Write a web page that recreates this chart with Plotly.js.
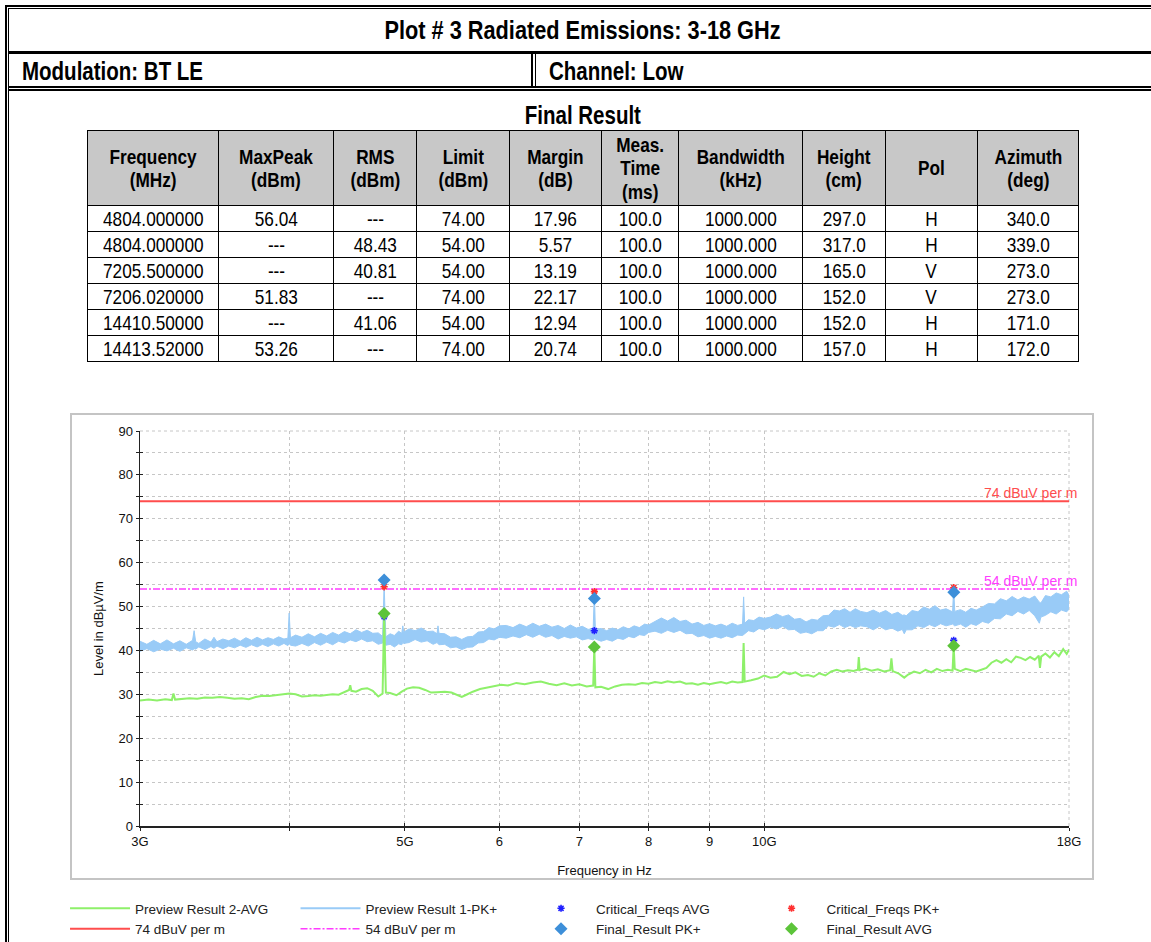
<!DOCTYPE html>
<html><head><meta charset="utf-8">
<script src="https://cdn.plot.ly/plotly-3.0.1.min.js"></script>
<style>
html,body{margin:0;padding:0;background:#fff;}
body{width:1151px;height:942px;overflow:hidden;position:relative;font-family:"Liberation Sans",Arial,sans-serif;color:#000;}
.ln{position:absolute;background:#000;}
.txt{position:absolute;white-space:nowrap;color:#000;}
.n{display:inline-block;font-family:var(--nf);transform:scaleX(var(--sx));transform-origin:50% 50%;}
.nl{transform-origin:0 50%;}
#tbl{position:absolute;left:87px;top:130px;border-collapse:collapse;table-layout:fixed;width:992px;}
#tbl td,#tbl th{border:1px solid #000;padding:0;text-align:center;vertical-align:middle;font-size:21px;white-space:nowrap;overflow:visible;}
#tbl th{background:#c8c8c8;font-weight:bold;height:74px;line-height:23.5px;}
#tbl td{height:25px;line-height:25px;}
#panel{position:absolute;left:70px;top:413px;width:1020px;height:463px;border:2px solid #c4c4c4;}
#chart{position:absolute;left:0;top:0;width:1151px;height:942px;}
</style></head>
<body>
<div id="frame"></div>
<div id="panel"></div>
<table id="tbl"></table>
<div id="chart"></div>
<script>
// ---------------- DATA ----------------
const plotTitle = 'Plot # 3 Radiated Emissions: 3-18 GHz';
const modulationLabel = 'Modulation: BT LE';
const channelLabel = 'Channel: Low';
const tableTitle = 'Final Result';
const tableHeaders = ['Frequency<br>(MHz)','MaxPeak<br>(dBm)','RMS<br>(dBm)','Limit<br>(dBm)','Margin<br>(dB)','Meas.<br>Time<br>(ms)','Bandwidth<br>(kHz)','Height<br>(cm)','Pol','Azimuth<br>(deg)'];
const resFreqMHz = [4804.0, 4804.0, 7205.5, 7206.02, 14410.5, 14413.52];
const resMaxPeak = [56.04, null, null, 51.83, null, 53.26];
const resRMS = [null, 48.43, 40.81, null, 41.06, null];
const resLimit = [74.00, 54.00, 54.00, 74.00, 54.00, 74.00];
const resMargin = [17.96, 5.57, 13.19, 22.17, 12.94, 20.74];
const resMeasTime = [100.0, 100.0, 100.0, 100.0, 100.0, 100.0];
const resBandwidth = [1000.0, 1000.0, 1000.0, 1000.0, 1000.0, 1000.0];
const resHeight = [297.0, 317.0, 165.0, 152.0, 152.0, 157.0];
const resPol = ['H','H','V','V','H','H'];
const resAzimuth = [340.0, 339.0, 273.0, 273.0, 171.0, 172.0];

const xTickVals = [3,4,5,6,7,8,9,10,18];
const xTickText = ['3G','','5G','6','7','8','9','10G','18G'];
const freqRangeGHz = [3, 18];
const levelRange = [0, 90];
const limitPeak = 74;
const limitAvg = 54;

// Preview Result 1-PK+ : band of the dense peak trace (GHz, upper / lower edge in dBuV/m)
const pkBandFreq = [
 3.00,3.04,3.08,3.12,3.16,3.20,3.24,3.28,3.32,3.33,3.34,3.36,3.40,3.44,3.46,3.48,3.52,3.56,3.60,3.64,3.68,3.72,3.76,3.80,3.84,3.88,3.92,3.96,3.99,4.00,4.01,
 4.05,4.10,4.15,4.20,4.25,4.30,4.35,4.40,4.45,4.50,4.55,4.60,4.65,4.70,4.75,4.79,4.804,4.82,4.86,4.90,4.94,4.97,4.98,4.99,
 5.04,5.10,5.16,5.22,5.28,5.32,5.33,5.34,5.40,5.46,5.52,5.58,5.64,5.70,5.76,5.82,5.88,5.94,6.00,
 6.08,6.16,6.24,6.32,6.40,6.48,6.56,6.64,6.72,6.80,6.88,6.96,7.04,7.12,7.19,7.206,7.22,7.30,7.38,7.46,7.54,7.62,7.70,7.78,7.86,7.94,8.00,
 8.10,8.20,8.30,8.40,8.50,8.60,8.70,8.80,8.90,9.00,9.10,9.20,9.30,9.40,9.50,9.59,9.61,9.63,9.70,9.80,9.90,10.00,
 10.12,10.24,10.36,10.48,10.60,10.72,10.84,10.96,11.08,11.20,11.32,11.44,11.56,11.68,11.80,11.92,12.04,
 12.19,12.34,12.49,12.64,12.79,12.94,13.05,13.10,13.15,13.30,13.45,13.60,13.75,13.90,14.05,14.20,14.38,14.41,14.44,14.60,14.75,14.90,15.05,
 15.23,15.41,15.59,15.77,15.95,16.13,16.31,16.49,16.67,16.85,17.00,17.05,17.20,17.38,17.56,17.74,17.92,18.00
];
const pkUpper = [
 42.1,41.4,42.3,41.5,42.4,41.5,42.2,41.4,42.3,44.5,42.0,41.6,42.6,41.9,43.0,42.0,42.6,42.2,42.8,42.1,42.9,42.3,43.0,42.4,42.9,42.5,43.1,42.6,42.8,48.5,42.9,
 43.5,43.0,43.8,43.1,43.9,43.3,44.1,43.5,44.3,43.8,44.7,44.1,44.6,43.9,44.0,43.2,55.0,43.1,43.8,43.4,44.4,43.9,45.6,44.2,
 44.9,44.5,45.1,44.3,44.4,43.8,45.6,43.9,43.8,43.0,43.1,42.5,43.1,43.2,44.2,44.3,45.2,44.9,45.6,
 45.7,45.2,46.0,45.4,46.2,45.5,46.0,45.3,45.7,45.0,45.8,45.1,45.5,44.8,45.0,53.4,44.8,45.0,44.5,45.1,44.7,45.4,44.9,45.6,45.2,46.0,45.8,
 46.6,47.4,46.7,47.5,46.6,46.9,46.0,46.4,45.7,46.1,45.6,46.0,45.5,46.2,45.7,46.0,52.2,46.2,47.0,46.8,47.6,47.3,
 47.6,48.3,47.7,48.1,47.1,47.3,46.5,47.1,46.9,47.9,48.0,49.2,49.0,49.5,48.7,49.5,48.9,
 48.6,49.2,48.5,49.1,48.2,48.7,48.0,48.1,47.9,49.1,48.8,49.9,49.4,50.2,49.2,49.5,48.8,54.3,48.9,49.3,48.7,49.6,49.2,
 49.9,50.7,50.6,51.8,51.3,52.3,51.5,52.2,51.7,52.4,51.0,50.8,52.5,52.2,53.1,52.7,53.5,52.6
];
const pkLower = [
 39.8,40.4,39.7,40.3,39.9,40.5,39.8,40.6,40.1,40.4,40.3,40.8,40.2,40.9,40.5,41.0,40.4,41.0,40.6,41.2,40.7,41.3,40.8,41.4,40.9,41.5,41.0,41.6,41.1,41.6,41.2,
 41.0,41.6,41.0,41.8,41.2,41.9,41.3,42.1,41.7,42.4,42.0,42.6,42.0,42.2,41.4,41.7,41.6,41.2,41.4,40.8,41.5,41.3,41.8,41.6,
 41.8,42.5,41.9,42.2,41.4,41.8,41.5,41.3,41.4,40.6,40.8,40.2,40.7,40.8,41.7,41.8,42.6,42.4,43.0,
 42.8,43.3,42.9,43.6,43.0,43.7,43.0,43.4,42.6,43.2,42.8,43.1,42.4,42.7,42.4,42.7,42.6,42.1,42.5,42.1,42.8,42.5,43.2,42.9,43.6,43.4,44.1,
 44.4,43.9,44.6,44.1,44.6,43.8,43.9,43.1,43.4,42.8,43.2,42.8,43.3,42.9,43.5,43.4,43.8,43.8,44.5,44.2,45.0,44.7,
 45.3,44.9,45.5,44.7,44.8,43.9,44.2,43.8,44.5,44.5,45.6,45.3,45.9,45.2,45.7,45.2,45.6,
 45.4,44.7,45.5,44.7,45.1,44.4,44.8,43.8,44.7,44.7,45.6,45.2,45.9,45.4,46.1,45.6,46.0,45.8,45.6,46.0,45.3,46.1,45.7,
 46.6,46.2,47.3,47.2,48.3,47.9,48.9,48.3,49.1,47.9,46.2,47.6,48.0,48.8,48.3,49.2,48.8,49.4
];

// Preview Result 2-AVG (GHz, dBuV/m)
const avgFreq = [
 3.00,3.05,3.10,3.15,3.19,3.20,3.21,3.25,3.30,3.35,
 3.40,3.45,3.50,3.55,3.60,3.65,3.70,3.75,3.80,3.85,
 3.90,3.95,4.00,4.05,4.10,4.15,4.20,4.25,4.30,4.35,
 4.40,4.45,4.49,4.50,4.51,4.55,4.60,4.65,4.70,4.75,
 4.79,4.804,4.82,4.86,4.92,4.97,5.02,5.08,5.14,5.20,
 5.26,5.32,5.40,5.47,5.53,5.58,5.63,5.70,5.78,5.86,
 5.94,6.02,6.10,6.20,6.30,6.40,6.50,6.60,6.70,6.80,
 6.90,7.00,7.10,7.19,7.2055,7.22,7.30,7.40,7.50,7.60,
 7.70,7.80,7.90,8.00,8.10,8.20,8.30,8.40,8.50,8.60,
 8.70,8.80,8.90,9.00,9.10,9.20,9.30,9.40,9.50,9.59,
 9.61,9.63,9.75,9.88,10.00,10.12,10.25,10.38,10.50,10.62,
 10.75,10.88,11.00,11.12,11.25,11.38,11.50,11.62,11.75,11.88,
 11.98,12.00,12.02,12.15,12.30,12.45,12.60,12.75,12.78,12.81,
 12.95,13.10,13.20,13.35,13.50,13.65,13.80,13.95,14.10,14.25,
 14.38,14.41,14.44,14.60,14.75,14.90,15.05,15.20,15.35,15.50,
 15.65,15.80,15.95,16.10,16.25,16.40,16.55,16.70,16.85,16.98,
 17.02,17.06,17.20,17.35,17.50,17.65,17.80,17.92,18.00
];
const avgLevel = [
 28.6,28.8,28.6,28.9,28.7,30.2,28.8,28.9,29.1,29.0,
 29.3,29.2,29.4,29.2,29.0,29.1,28.9,29.4,29.7,29.6,
 29.8,29.9,30.2,30.0,29.5,29.6,29.8,29.7,29.9,30.0,
 29.9,30.5,31.0,32.1,30.8,30.6,31.2,31.4,30.8,29.5,
 30.2,48.4,30.4,30.3,29.8,30.6,31.3,31.6,31.5,31.0,
 30.4,30.5,30.6,30.4,29.8,29.4,29.9,30.6,31.2,31.5,
 31.8,32.2,32.0,32.6,32.3,32.7,32.9,32.4,32.1,32.5,
 32.0,32.3,31.8,32.0,40.8,31.6,31.7,31.2,31.8,32.2,
 32.3,32.2,32.6,32.4,32.8,32.6,33.0,32.7,32.9,32.4,
 32.5,32.2,32.6,32.3,32.6,32.8,32.5,32.9,32.7,32.8,
 41.7,32.9,33.2,33.6,34.3,33.8,34.0,35.1,34.6,35.0,
 34.2,34.4,34.0,34.8,34.3,35.2,35.6,35.2,35.5,35.3,
 35.6,38.5,35.5,35.9,35.4,35.7,35.2,35.5,38.2,35.3,
 34.8,33.8,34.5,35.2,34.8,35.6,35.0,35.8,35.3,35.6,
 35.4,41.0,35.8,35.3,35.8,35.5,35.2,35.6,36.0,37.2,
 37.8,37.2,38.0,37.3,38.6,38.3,37.8,38.5,37.9,38.8,
 36.0,38.6,39.3,38.4,39.6,38.7,40.3,39.2,40.2
];

// Critical frequencies (GHz, dBuV/m)
const critAvgFreq = [4.804, 7.2055, 14.4105];
const critAvgLevel = [47.7, 44.5, 42.3];
const critPkFreq = [4.804, 7.20602, 14.41352];
const critPkLevel = [54.5, 53.4, 54.3];

// ---------------- FONT CHECK ----------------
(function(){
  const c = document.createElement('canvas').getContext('2d');
  const t = 'Frequency 4804.000000 MaxPeak Radiated';
  c.font = '40px monospace'; const w1 = c.measureText(t).width;
  c.font = '40px "Liberation Sans Narrow", monospace'; const w2 = c.measureText(t).width;
  const has = Math.abs(w1 - w2) > 0.5;
  const r = document.documentElement.style;
  r.setProperty('--nf', has ? '"Liberation Sans Narrow", "Liberation Sans", sans-serif' : '"Liberation Sans", Arial, sans-serif');
  r.setProperty('--sx', has ? '1' : '0.82');
})();

// ---------------- FRAME / HEADER ----------------
function line(l,t,w,h){ return '<div class="ln" style="left:'+l+'px;top:'+t+'px;width:'+w+'px;height:'+h+'px"></div>'; }
let fh = '';
fh += line(5,5,1146,2) + line(8,8,1143,1);
fh += line(5,5,2,937) + line(8,8,1,934);
fh += line(8,51,1143,3);
fh += line(8,86,1143,2) + line(8,89,1143,2);
fh += line(531,54,2,32) + line(535,54,1,32);
fh += '<div class="txt" style="left:8px;width:1150px;top:8px;height:43px;line-height:44px;text-align:center;font-size:26.5px;font-weight:bold"><span class="n">'+plotTitle+'</span></div>';
fh += '<div class="txt" style="left:22px;top:54px;height:32px;line-height:34px;font-size:25px;font-weight:bold"><span class="n nl">'+modulationLabel+'</span></div>';
fh += '<div class="txt" style="left:549px;top:54px;height:32px;line-height:34px;font-size:25px;font-weight:bold"><span class="n nl">'+channelLabel+'</span></div>';
fh += '<div class="txt" style="left:8px;width:1150px;top:101px;height:28px;line-height:28px;text-align:center;font-size:25px;font-weight:bold"><span class="n">'+tableTitle+'</span></div>';
document.getElementById('frame').innerHTML = fh;

// ---------------- TABLE ----------------
const colW = [131,115,83,93,92,77,124,83,92,101];
const fmt = (v, d) => (v === null ? '---' : v.toFixed(d));
let th = '<colgroup>' + colW.map(w => '<col style="width:'+w+'px">').join('') + '</colgroup>';
th += '<tr>' + tableHeaders.map(h => '<th><span class="n">'+h+'</span></th>').join('') + '</tr>';
for (let i = 0; i < resFreqMHz.length; i++) {
  const cells = [resFreqMHz[i].toPrecision(10), fmt(resMaxPeak[i],2), fmt(resRMS[i],2), fmt(resLimit[i],2), fmt(resMargin[i],2),
    fmt(resMeasTime[i],1), fmt(resBandwidth[i],3), fmt(resHeight[i],1), resPol[i], fmt(resAzimuth[i],1)];
  th += '<tr>' + cells.map(c => '<td><span class="n">'+c+'</span></td>').join('') + '</tr>';
}
document.getElementById('tbl').innerHTML = th;

// ---------------- CHART ----------------
const pkIdx = resMaxPeak.map((v,i)=>v===null?-1:i).filter(i=>i>=0);
const avIdx = resRMS.map((v,i)=>v===null?-1:i).filter(i=>i>=0);
const finalPkFreq = pkIdx.map(i => resFreqMHz[i]/1000);
const finalPkLevel = pkIdx.map(i => resMaxPeak[i]);
const finalAvgFreq = avIdx.map(i => resFreqMHz[i]/1000);
const finalAvgLevel = avIdx.map(i => resRMS[i]);

const pkColor = '#99cbf7';
const bandX = pkBandFreq.concat(pkBandFreq.slice().reverse());
const bandY = pkUpper.concat(pkLower.slice().reverse());

const traces = [
  {name:'Preview Result 1-PK+', x:bandX, y:bandY, type:'scatter', mode:'lines', fill:'toself', fillcolor:pkColor,
   line:{color:pkColor, width:1}, showlegend:false},
  {name:'Preview Result 2-AVG', x:avgFreq, y:avgLevel, type:'scatter', mode:'lines', line:{color:'#8ef06a', width:2}, legendrank:1},
  {name:'Preview Result 1-PK+', x:[null], y:[null], type:'scatter', mode:'lines', line:{color:pkColor, width:2}, legendrank:2},
  {name:'74 dBuV per m', x:freqRangeGHz, y:[limitPeak, limitPeak], type:'scatter', mode:'lines', line:{color:'#ff4d4d', width:2}, legendrank:5},
  {name:'54 dBuV per m', x:freqRangeGHz, y:[limitAvg, limitAvg], type:'scatter', mode:'lines', line:{color:'#ff3cff', width:1.5, dash:'7px,2px,2px,2px'}, legendrank:6},
  {name:'Critical_Freqs AVG', x:critAvgFreq, y:critAvgLevel, type:'scatter', mode:'markers', marker:{symbol:'asterisk-open', size:6, color:'#1f1fff', line:{color:'#1f1fff', width:1.6}}, legendrank:3},
  {name:'Critical_Freqs PK+', x:critPkFreq, y:critPkLevel, type:'scatter', mode:'markers', marker:{symbol:'asterisk-open', size:6, color:'#ff3030', line:{color:'#ff3030', width:1.6}}, legendrank:4},
  {name:'Final_Result PK+', x:finalPkFreq, y:finalPkLevel, type:'scatter', mode:'markers', marker:{symbol:'diamond', size:10, color:'#3d8fd9'}, legendrank:7},
  {name:'Final_Result AVG', x:finalAvgFreq, y:finalAvgLevel, type:'scatter', mode:'markers', marker:{symbol:'diamond', size:10, color:'#5cc43a'}, legendrank:8},
  {x:[], y:[], xaxis:'x2', yaxis:'y', showlegend:false, hoverinfo:'skip', type:'scatter'},
  {x:[], y:[], xaxis:'x', yaxis:'y2', showlegend:false, hoverinfo:'skip', type:'scatter'}
];

const gridC = '#c6c6c6';
const logRange = [Math.log10(freqRangeGHz[0]), Math.log10(freqRangeGHz[1])];
const layout = {
  width:1151, height:942,
  margin:{l:140, r:82, t:431, b:116, pad:0, autoexpand:false},
  paper_bgcolor:'rgba(0,0,0,0)', plot_bgcolor:'rgba(0,0,0,0)',
  font:{family:'"Liberation Sans", Arial, sans-serif', size:13, color:'#111'},
  showlegend:true,
  legend:{orientation:'h', x:-0.0807, xanchor:'left', y:-0.1696, yanchor:'top', entrywidth:155.5, entrywidthmode:'pixels',
          itemwidth:60, font:{size:13.5, color:'#222'}, traceorder:'normal', bgcolor:'rgba(0,0,0,0)', borderwidth:0, tracegroupgap:0},
  xaxis:{type:'log', range:logRange, tickmode:'array', tickvals:xTickVals, ticktext:xTickText,
         showline:true, linecolor:'#222', linewidth:1.5, ticks:'outside', ticklen:3, tickcolor:'#222', tickwidth:1,
         showgrid:true, gridcolor:gridC, griddash:'dot', gridwidth:1, zeroline:false,
         tickfont:{size:13, color:'#111'}, title:{text:'Frequency in Hz', font:{size:13, color:'#111'}, standoff:18}},
  xaxis2:{type:'log', range:logRange, overlaying:'x', anchor:'y', side:'bottom', tickmode:'array', tickvals:xTickVals,
         ticks:'inside', ticklen:3, tickcolor:'#222', showticklabels:false, showgrid:false, showline:false, zeroline:false},
  yaxis:{range:levelRange, tick0:0, dtick:10, showline:true, linecolor:'#222', linewidth:1.5,
         ticks:'outside', ticklen:3, tickcolor:'#222', showgrid:true, gridcolor:gridC, griddash:'dot', gridwidth:1, zeroline:false,
         minor:{tick0:0, dtick:5, ticks:'outside', ticklen:3, tickcolor:'#222', showgrid:true, gridcolor:gridC, griddash:'dot', gridwidth:1},
         tickfont:{size:13, color:'#111'}, title:{text:'Level in dBµV/m', font:{size:13, color:'#111'}, standoff:12}},
  yaxis2:{range:levelRange, overlaying:'y', anchor:'x', side:'left', tick0:0, dtick:5, ticks:'inside', ticklen:3, tickcolor:'#222',
         showticklabels:false, showgrid:false, showline:false, zeroline:false},
  shapes:[
    {type:'line', xref:'paper', yref:'paper', x0:0, x1:1, y0:1, y1:1, line:{color:gridC, width:1, dash:'dot'}, layer:'below'},
    {type:'line', xref:'paper', yref:'paper', x0:1, x1:1, y0:0, y1:1, line:{color:gridC, width:1, dash:'dot'}, layer:'below'}
  ],
  annotations:[
    {xref:'paper', x:1.0097, xanchor:'right', yref:'y', y:limitPeak, yanchor:'bottom', text:limitPeak+' dBuV per m', showarrow:false, font:{size:14, color:'#ff4d4d'}, borderpad:0, yshift:-1},
    {xref:'paper', x:1.0097, xanchor:'right', yref:'y', y:limitAvg, yanchor:'bottom', text:limitAvg+' dBuV per m', showarrow:false, font:{size:14, color:'#ff3cff'}, borderpad:0, yshift:-1}
  ]
};
Plotly.newPlot('chart', traces, layout, {staticPlot:true, displayModeBar:false});
</script>
</body></html>
